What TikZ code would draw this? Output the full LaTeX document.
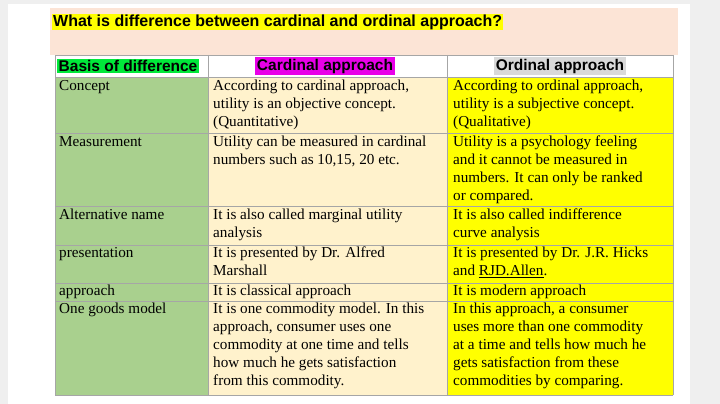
\documentclass[tikz,border=0pt]{standalone}
\usepackage{fontspec}
\setmainfont{Liberation Serif}
\setsansfont{Liberation Sans}
\usetikzlibrary{positioning}
\definecolor{pagegray}{HTML}{EFEFEF}
\definecolor{peach}{HTML}{FCE4D6}
\definecolor{leafgreen}{HTML}{A9D08E}
\definecolor{cream}{HTML}{FFF2CC}
\definecolor{brightyellow}{HTML}{FFFF00}
\definecolor{hlgreen}{HTML}{00E83A}
\definecolor{hlpink}{HTML}{E800E8}
\definecolor{hlgray}{HTML}{D9D9D9}
\tikzset{
  celltext/.style={anchor=north west, inner sep=0pt, align=left,
    font=\fontsize{15.2}{18}\selectfont},
  headtext/.style={inner sep=1.5pt, font=\sffamily\bfseries\fontsize{15.5}{17}\selectfont},
  gridline/.style={draw=gray!70, line width=0.6pt}
}
\begin{document}
\begin{tikzpicture}[x=1pt, y=-1pt]
  \useasboundingbox (0,0) rectangle (720,404);
  \fill[pagegray] (0,0) rectangle (720,404);
  \fill[white] (8,4) rectangle (690,404);
  \fill[peach] (50,8) rectangle (678,55);

  % title
  \node[anchor=west, fill=brightyellow, inner sep=1pt,
        font=\sffamily\bfseries\fontsize{16}{18}\selectfont] (title) at (52,22)
        {What is difference between cardinal and ordinal approach?};

  % column fills
  \fill[leafgreen] (55,77) rectangle (208,395);
  \fill[cream] (208,77) rectangle (447,395);
  \fill[brightyellow] (447,77) rectangle (673,395);

  % grid
  \foreach \y in {55,77,133,206,245,283,301,395}
    \draw[gridline] (55,\y) -- (673,\y);
  \foreach \x in {55,208,447,673}
    \draw[gridline] (\x,55) -- (\x,395);

  % header
  \node[headtext, fill=hlgreen, anchor=west] (basis) at (57,66) {Basis of difference};
  \node[headtext, fill=hlpink] (cardinal) at (325,66) {Cardinal approach};
  \node[headtext, fill=hlgray] (ordinal) at (560,66) {Ordinal approach};

  % first column
  \node[celltext] (r1a) at (59,80) {Concept};
  \node[celltext] (r2a) at (59,136) {Measurement};
  \node[celltext] (r3a) at (59,209) {Alternative name};
  \node[celltext] (r4a) at (59,247) {presentation};
  \node[celltext] (r5a) at (59,285) {approach};
  \node[celltext] (r6a) at (59,303) {One goods model};

  % cardinal column
  \node[celltext] (r1b) at (213,80) {According to cardinal approach,\\utility is an objective concept.\\(Quantitative)};
  \node[celltext] (r2b) at (213,136) {Utility can be measured in cardinal\\numbers such as 10,15, 20 etc.};
  \node[celltext] (r3b) at (213,209) {It is also called marginal utility\\analysis};
  \node[celltext] (r4b) at (213,247) {It is presented by Dr. Alfred\\Marshall};
  \node[celltext] (r5b) at (213,285) {It is classical approach};
  \node[celltext] (r6b) at (213,303) {It is one commodity model. In this\\approach, consumer uses one\\commodity at one time and tells\\how much he gets satisfaction\\from this commodity.};

  % ordinal column
  \node[celltext] (r1c) at (453,80) {According to ordinal approach,\\utility is a subjective concept.\\(Qualitative)};
  \node[celltext] (r2c) at (453,136) {Utility is a psychology feeling\\and it cannot be measured in\\numbers. It can only be ranked\\or compared.};
  \node[celltext] (r3c) at (453,209) {It is also called indifference\\curve analysis};
  \node[celltext] (r4c) at (453,247) {It is presented by Dr. J.R. Hicks\\and \underline{RJD.Allen}.};
  \node[celltext] (r5c) at (453,285) {It is modern approach};
  \node[celltext] (r6c) at (453,303) {In this approach, a consumer\\uses more than one commodity\\at a time and tells how much he\\gets satisfaction from these\\commodities by comparing.};
\end{tikzpicture}
\end{document}
